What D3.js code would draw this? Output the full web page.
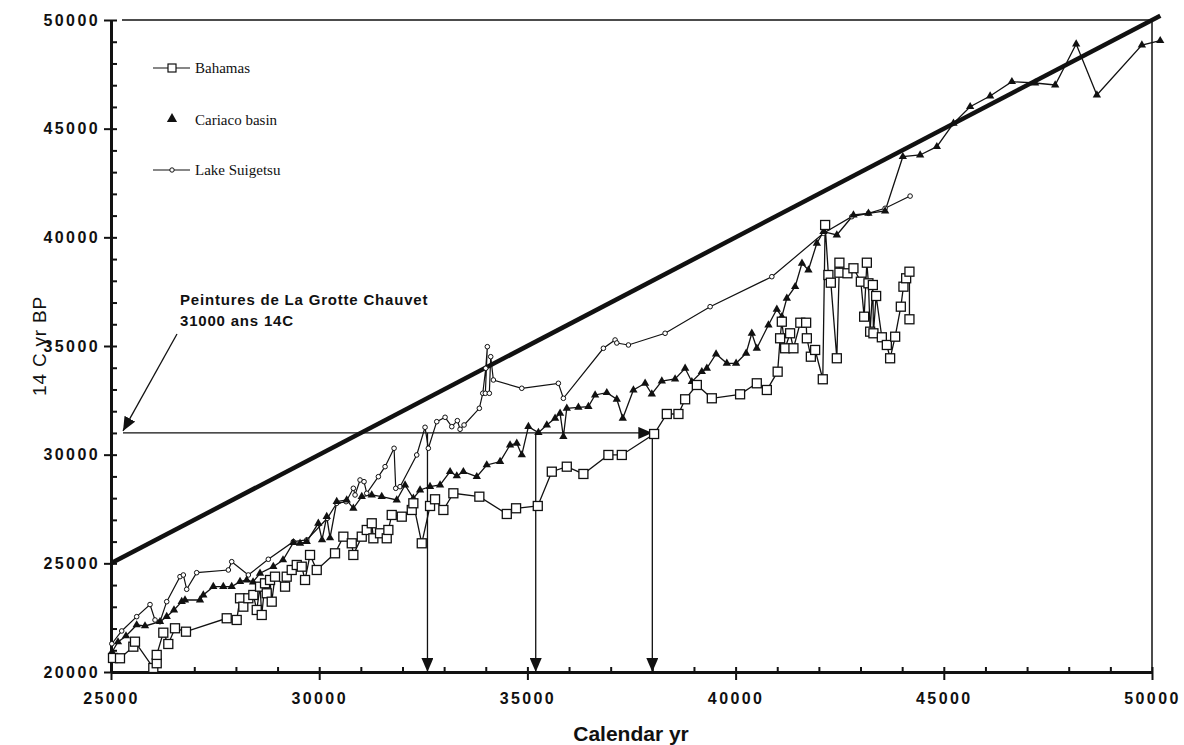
<!DOCTYPE html>
<html lang="en">
<head>
<meta charset="UTF-8">
<script src="https://cdn.jsdelivr.net/npm/d3@7"></script>
<style>
    body { margin: 0; background: #fff; }
    svg { display: block; }
    .tick text { font-family: "Liberation Sans", Arial, sans-serif; font-weight: bold; font-size: 16px; letter-spacing: 2.4px; fill: #111; }
    .legend text { font-family: "Liberation Serif", "Times New Roman", serif; font-size: 15px; fill: #111; }
    .note { font-family: "Liberation Sans", Arial, sans-serif; font-weight: bold; font-size: 15px; letter-spacing: 0.8px; fill: #111; }
</style>
</head>
<body>
<svg width="1184" height="745"></svg>
<script>
    // [calendar yr, 14C yr BP]
    var bahamas = [[25048,20646],[25216,20632],[25536,21165],[25576,21395],[26016,20185],[26098,20402],[26098,20786],
        [26256,21809],[26376,21289],[26537,22012],[26801,21855],[27779,22472],[28019,22394],[28099,23392],[28178,23006],
        [28298,23392],[28418,23544],[28500,22854],[28579,23926],[28620,22624],[28699,24082],[28740,23622],[28819,24234],
        [28860,23236],[28939,24386],[29180,23926],[29220,24386],[29340,24694],[29461,24924],[29581,24846],[29660,24234],
        [29780,25385],[29941,24694],[30380,25462],[30580,26227],[30782,25922],[30820,25385],[31022,26227],[31142,26535],
        [31262,26843],[31301,26152],[31461,26383],[31622,26152],[31661,26535],[31742,27225],[31983,27147],[32223,27455],
        [32261,27763],[32463,25922],[32662,27639],[32782,27947],[32982,27455],[33222,28223],[33846,28067],[34505,27271],
        [34728,27533],[35249,27639],[35586,29217],[35946,29447],[36345,29112],[36945,29986],[37267,29986],[38043,30951],
        [38348,31872],[38627,31872],[38788,32548],[39069,33206],[39429,32594],[40108,32778],[40509,33284],[40750,32976],
        [41010,33818],[41069,35355],[41110,36118],[41189,34895],[41309,35585],[41389,34895],[41554,36072],[41694,36072],
        [41711,35355],[41807,34508],[41910,34817],[42094,33469],[42150,40568],[42229,38267],[42287,37913],[42431,34435],
        [42493,38833],[42493,38373],[42686,38346],[42830,38576],[43008,37959],[43087,36349],[43152,38833],[43190,37885],
        [43231,35659],[43296,37807],[43310,35585],[43375,37301],[43512,35401],[43632,35047],[43711,34435],[43832,35428],
        [43968,36809],[44031,37729],[44096,38116],[44175,38419],[44175,36229]];

    var cariaco = [[25024,20922],[25168,21382],[25360,21658],[25617,22164],[25817,22118],[26177,22315],[26338,22546],
        [26513,22854],[26698,23236],[26777,23314],[27138,23314],[27217,23544],[27457,23926],[27697,23926],[27899,23926],
        [28099,24156],[28259,24234],[28411,24142],[28579,24542],[28898,24846],[29131,25155],[29379,25950],[29540,25922],
        [29701,25997],[29979,26843],[30068,26075],[30181,27147],[30260,26167],[30421,27837],[30661,27915],[30820,27533],
        [31022,28067],[31262,28145],[31502,28067],[31862,27915],[32062,28605],[32261,27993],[32422,28375],[32662,28527],
        [32903,28605],[33143,29217],[33304,29020],[33462,29217],[33784,28987],[34024,29526],[34344,29678],[34584,30446],
        [34745,30524],[34865,29986],[35024,31288],[35264,31012],[35466,31366],[35665,31674],[35785,31904],[35864,30828],
        [35946,32134],[36225,32180],[36465,32208],[36626,32746],[36907,32852],[37147,32548],[37291,31674],[37546,32976],
        [37827,33284],[37988,32792],[38228,33390],[38547,33482],[38788,33975],[38949,33358],[39189,33818],[39309,33975],
        [39531,34632],[39789,34205],[40012,34205],[40253,34665],[40389,35585],[40509,34895],[40789,35967],[40990,36689],
        [41110,36349],[41230,37195],[41430,37729],[41594,38806],[41749,38497],[41951,39726],[42110,40260],[42431,40108],
        [42830,41028],[43190,41106],[43591,41212],[44016,43710],[44432,43789],[44833,44170],[45232,45247],[45633,46011],
        [46113,46503],[46635,47161],[47194,47101],[47675,47009],[48179,48896],[48676,46549],[49757,48850],[50197,49048]];

    var suigetsu = [[25020,21300],[25257,21888],[25617,22546],[25937,23104],[26057,22394],[26177,22315],[26338,23236],
        [26657,24386],[26737,24464],[26818,23806],[27058,24570],[27818,24694],[27899,25076],[28298,24464],[28778,25187],
        [29379,25997],[29701,26075],[30195,27073],[30421,27763],[30645,27837],[30820,28453],[30861,28145],[30981,28835],
        [31077,28757],[31142,28223],[31421,28987],[31582,29447],[31798,30294],[31838,28453],[31942,28527],[32342,29986],
        [32542,31260],[32621,30294],[32823,31518],[33023,31720],[33184,31288],[33318,31564],[33383,31168],[33479,31366],
        [33846,32134],[33928,32824],[34000,33975],[34038,34968],[33990,32824],[34086,32824],[34119,34508],[34183,33436],
        [34865,33055],[35744,33284],[35864,32594],[36825,34895],[37106,35277],[37147,35139],[37426,35047],[38307,35585],
        [39388,36809],[40870,38189],[42110,40186],[42791,40950],[43190,41106],[43591,41336],[44191,41898]];

    var xMajor = [25000, 30000, 35000, 40000, 45000, 50000];
    var yMajor = [20000, 25000, 30000, 35000, 40000, 45000, 50000];
    var identityLine = [[25000, 25000], [50200, 50200]];
    var chauvetC14 = 31000;
    var chauvetCal = [32600, 35200, 38000];
    var legendNames = ["Bahamas", "Cariaco basin", "Lake Suigetsu"];

    var svg = d3.select("svg");
    var x = d3.scaleLinear().domain([25000, 50000]).range([111, 1152]);
    var y = d3.scaleLinear().domain([20000, 50000]).range([672, 20]);

    var defs = svg.append("defs");
    defs.append("marker")
        .attr("id", "arrow")
        .attr("markerUnits", "userSpaceOnUse")
        .attr("markerWidth", 14).attr("markerHeight", 12)
        .attr("refX", 14).attr("refY", 6)
        .attr("orient", "auto")
        .append("path")
        .attr("d", "M0,0 L14,6 L0,12 Z")
        .attr("fill", "#111");

    // frame: top and right lines
    svg.append("line").attr("x1", 122).attr("x2", x(50000)).attr("y1", y(50000)).attr("y2", y(50000))
        .attr("stroke", "#111").attr("stroke-width", 1.5);
    svg.append("line").attr("x1", x(50000)).attr("x2", x(50000)).attr("y1", y(50000)).attr("y2", y(20000))
        .attr("stroke", "#111").attr("stroke-width", 1.5);

    // axes
    var gy = svg.append("g").attr("transform", "translate(" + x(25000) + ",0)");
    gy.call(d3.axisLeft(y).tickValues(yMajor).tickSize(7).tickSizeOuter(0).tickPadding(4).tickFormat(d3.format("d")));
    gy.append("g").call(d3.axisRight(y).tickValues(d3.range(20000, 50001, 1000)).tickSize(6).tickSizeOuter(0).tickFormat(""));

    var gx = svg.append("g").attr("transform", "translate(0," + y(20000) + ")");
    gx.call(d3.axisBottom(x).tickValues(xMajor).tickSize(8).tickSizeOuter(0).tickPadding(13).tickFormat(d3.format("d")));
    gx.append("g").call(d3.axisTop(x).tickValues(d3.range(25000, 50001, 1000)).tickSize(5).tickSizeOuter(0).tickFormat(""));

    svg.selectAll(".domain").attr("stroke", "#111").attr("stroke-width", 3);
    svg.selectAll(".tick line").attr("stroke", "#111").attr("stroke-width", 2);

    svg.append("text")
        .attr("x", 631).attr("y", 741)
        .attr("text-anchor", "middle")
        .attr("fill", "#111")
        .style("font-family", "'Liberation Sans', Arial, sans-serif")
        .style("font-weight", "bold").style("font-size", "21px")
        .text("Calendar yr");
    svg.append("text")
        .attr("transform", "translate(46,346) rotate(-90)")
        .attr("text-anchor", "middle")
        .attr("fill", "#111")
        .style("font-family", "'Liberation Sans', Arial, sans-serif")
        .style("font-size", "19px").style("letter-spacing", "0.8px")
        .text("14 C yr BP");

    // 1:1 line
    var line = d3.line().x(function (d) { return x(d[0]); }).y(function (d) { return y(d[1]); });
    svg.append("path").datum(identityLine).attr("d", line)
        .attr("fill", "none").attr("stroke", "#111").attr("stroke-width", 4.5);

    // Chauvet annotation
    svg.append("line")
        .attr("x1", x(25000) + 12).attr("x2", x(chauvetCal[2]))
        .attr("y1", y(chauvetC14)).attr("y2", y(chauvetC14))
        .attr("stroke", "#111").attr("stroke-width", 1.3)
        .attr("marker-end", "url(#arrow)");
    chauvetCal.forEach(function (c) {
        svg.append("line")
            .attr("x1", x(c)).attr("x2", x(c))
            .attr("y1", y(chauvetC14)).attr("y2", y(20000))
            .attr("stroke", "#111").attr("stroke-width", 1.3)
            .attr("marker-end", "url(#arrow)");
    });
    svg.append("line")
        .attr("x1", 177).attr("y1", 334).attr("x2", x(25000) + 12).attr("y2", y(chauvetC14) - 2)
        .attr("stroke", "#111").attr("stroke-width", 1.3)
        .attr("marker-end", "url(#arrow)");
    svg.append("text").attr("class", "note").attr("x", 180).attr("y", 305).text("Peintures de La Grotte Chauvet");
    svg.append("text").attr("class", "note").attr("x", 180).attr("y", 326).text("31000 ans 14C");

    // series lines
    svg.append("path").datum(suigetsu).attr("d", line)
        .attr("fill", "none").attr("stroke", "#111").attr("stroke-width", 1.2);
    svg.append("path").datum(cariaco).attr("d", line)
        .attr("fill", "none").attr("stroke", "#111").attr("stroke-width", 1.3);
    svg.append("path").datum(bahamas).attr("d", line)
        .attr("fill", "none").attr("stroke", "#111").attr("stroke-width", 1.3);

    var tri = d3.symbol().type(d3.symbolTriangle).size(30);

    svg.append("g").selectAll("circle").data(suigetsu).enter().append("circle")
        .attr("cx", function (d) { return x(d[0]); })
        .attr("cy", function (d) { return y(d[1]); })
        .attr("r", 2.3).attr("fill", "#fff").attr("stroke", "#111").attr("stroke-width", 1);
    svg.append("g").selectAll("path").data(cariaco).enter().append("path")
        .attr("d", tri)
        .attr("transform", function (d) { return "translate(" + x(d[0]) + "," + y(d[1]) + ")"; })
        .attr("fill", "#111");
    svg.append("g").selectAll("rect").data(bahamas).enter().append("rect")
        .attr("x", function (d) { return x(d[0]) - 4.5; })
        .attr("y", function (d) { return y(d[1]) - 4.5; })
        .attr("width", 9).attr("height", 9)
        .attr("fill", "#fff").attr("stroke", "#111").attr("stroke-width", 1.3);

    // legend
    var lg = svg.append("g").attr("class", "legend");
    var rows = [68, 120, 170];
    lg.append("line").attr("x1", 153).attr("x2", 190).attr("y1", rows[0]).attr("y2", rows[0]).attr("stroke", "#111").attr("stroke-width", 1.2);
    lg.append("rect").attr("x", 168).attr("y", rows[0] - 4).attr("width", 8).attr("height", 8)
        .attr("fill", "#fff").attr("stroke", "#111").attr("stroke-width", 1.2);
    lg.append("path").attr("d", d3.symbol().type(d3.symbolTriangle).size(45))
        .attr("transform", "translate(172," + (rows[1] - 1) + ")").attr("fill", "#111");
    lg.append("line").attr("x1", 153).attr("x2", 190).attr("y1", rows[2]).attr("y2", rows[2]).attr("stroke", "#111").attr("stroke-width", 1.2);
    lg.append("circle").attr("cx", 172).attr("cy", rows[2]).attr("r", 2.2)
        .attr("fill", "#fff").attr("stroke", "#111").attr("stroke-width", 1);
    lg.selectAll("text").data(legendNames).enter().append("text")
        .attr("x", 195)
        .attr("y", function (d, i) { return rows[i] + 5; })
        .text(function (d) { return d; });
</script>
</body>
</html>
